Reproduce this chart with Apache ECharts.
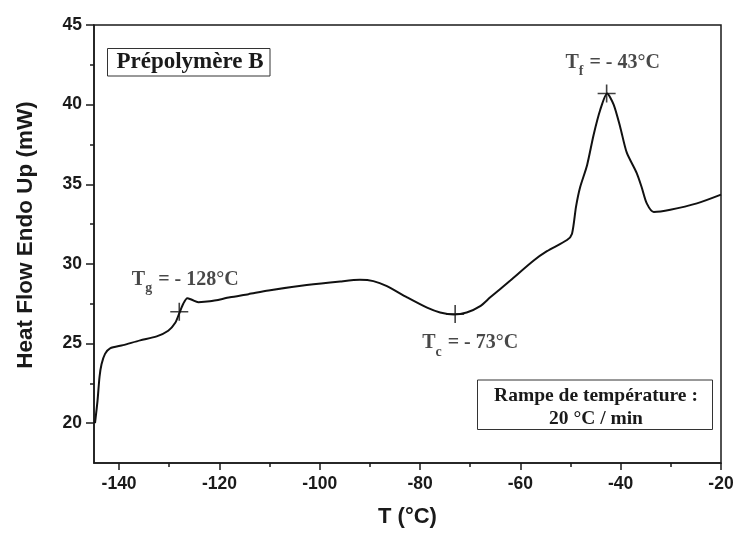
<!DOCTYPE html>
<html>
<head>
<meta charset="utf-8">
<script src="https://cdn.jsdelivr.net/npm/echarts@6/dist/echarts.min.js"></script>
<style>
html,body{margin:0;padding:0;background:#fff;}
#chart{width:737px;height:533px;}
</style>
</head>
<body>
<div id="chart"></div>
<script>
// Data
var tempC = [-144.8, -144.3, -143.9, -143.5, -142.8, -141.8, -139.2, -135.8, -132.5, -130.2, -128.8, -128, -127.2, -126.4, -125.5, -124.2, -121.9, -117.9, -114.2, -110.2, -102.6, -95.9, -92, -89.3, -86.6, -82.6, -78.6, -76, -73.3, -70.7, -68, -66, -62, -57.4, -54.7, -50.7, -49.7, -48.9, -48.1, -46.7, -45.4, -44.1, -42.7, -41.4, -40.1, -38.8, -36.8, -35.8, -34.8, -33.4, -30.1, -24.8, -20];
var heatFlow = [20.0, 21.4, 22.9, 23.7, 24.35, 24.7, 24.9, 25.2, 25.45, 25.8, 26.3, 26.9, 27.5, 27.85, 27.75, 27.6, 27.65, 27.9, 28.1, 28.33, 28.67, 28.9, 29.0, 28.92, 28.6, 27.9, 27.25, 26.95, 26.82, 26.95, 27.35, 27.9, 28.96, 30.2, 30.8, 31.5, 31.9, 33.6, 34.8, 36.2, 38.1, 39.65, 40.7, 40.0, 38.6, 37.0, 35.7, 34.8, 33.8, 33.26, 33.4, 33.8, 34.35];

// Characteristic temperatures (marked points)
var markNames = ['g', 'c', 'f'];
var markTemps = [-128, -73, -42.8];
var markFlows = [27.0, 26.85, 40.7];
var markTexts = [' = - 128°C', ' = - 73°C', ' = - 43°C'];

// Axis ticks
var xTicks = [-140, -120, -100, -80, -60, -40, -20];
var xMinorTicks = [-130, -110, -90, -70, -50, -30];
var yTicks = [20, 25, 30, 35, 40, 45];
var yMinorTicks = [22.5, 27.5, 32.5, 37.5, 42.5];

var curve = tempC.map(function (t, i) { return [t, heatFlow[i]]; });
var labelOffsets = [[6, -31], [15, 30], [6, -30]];
var marks = markTemps.map(function (t, i) {
  return {
    value: [t, markFlows[i]],
    label: {
      show: true,
      position: 'inside',
      offset: labelOffsets[i],
      formatter: '{t|T}{s|' + markNames[i] + '}{t|' + markTexts[i] + '}'
    }
  };
});

var axisColor = '#1a1a1a';
var sansFont = '"Liberation Sans", Arial, Helvetica, sans-serif';
var serifFont = '"Liberation Serif", "Times New Roman", serif';

var chart = echarts.init(document.getElementById('chart'), null, {renderer: 'canvas'});
chart.setOption({
  animation: false,
  backgroundColor: '#fff',
  grid: {left: 94, right: 16, top: 25, bottom: 70, show: true, borderColor: axisColor, borderWidth: 1.5, backgroundColor: 'transparent'},
  xAxis: [{
    type: 'value', min: -145, max: -20,
    name: 'T (°C)', nameLocation: 'middle', nameGap: 43,
    nameTextStyle: {fontFamily: sansFont, fontWeight: 'bold', fontSize: 22, color: axisColor},
    axisLine: {show: true, lineStyle: {color: axisColor, width: 1.5}},
    axisTick: {show: true, inside: false, length: 7, customValues: xTicks, lineStyle: {color: axisColor, width: 1.5}},
    axisLabel: {customValues: xTicks, margin: 12, fontFamily: sansFont, fontWeight: 'bold', fontSize: 17.5, color: axisColor},
    splitLine: {show: false}
  }, {
    type: 'value', min: -145, max: -20, position: 'bottom',
    axisLine: {show: false},
    axisTick: {show: true, inside: false, length: 4, customValues: xMinorTicks, lineStyle: {color: axisColor, width: 1.5}},
    axisLabel: {show: false},
    splitLine: {show: false}
  }],
  yAxis: [{
    type: 'value', min: 17.5, max: 45,
    name: 'Heat Flow Endo Up (mW)', nameLocation: 'middle', nameGap: 57, nameRotate: 90,
    nameTextStyle: {fontFamily: sansFont, fontWeight: 'bold', fontSize: 22.5, color: axisColor, padding: [0, 0, 0, 18]},
    axisLine: {show: true, lineStyle: {color: axisColor, width: 1.5}},
    axisTick: {show: true, inside: false, length: 8, customValues: yTicks, lineStyle: {color: axisColor, width: 1.5}},
    axisLabel: {customValues: yTicks, margin: 12, fontFamily: sansFont, fontWeight: 'bold', fontSize: 17.5, color: axisColor},
    splitLine: {show: false}
  }, {
    type: 'value', min: 17.5, max: 45, position: 'left',
    axisLine: {show: false},
    axisTick: {show: true, inside: false, length: 4, customValues: yMinorTicks, lineStyle: {color: axisColor, width: 1.5}},
    axisLabel: {show: false},
    splitLine: {show: false}
  }],
  series: [{
    type: 'line',
    data: curve,
    smooth: 0.25,
    showSymbol: false,
    lineStyle: {color: '#111', width: 2},
    z: 3
  }, {
    type: 'scatter',
    data: marks,
    symbol: 'path://M8.2,0H9.8V8.2H18V9.8H9.8V18H8.2V9.8H0V8.2H8.2Z',
    symbolSize: 18,
    itemStyle: {color: '#111'},
    label: {
      rich: {
        t: {fontFamily: serifFont, fontWeight: 'bold', fontSize: 20, color: '#1a1a1a', verticalAlign: 'top', lineHeight: 22},
        s: {fontFamily: serifFont, fontWeight: 'bold', fontSize: 14, color: '#1a1a1a', verticalAlign: 'top', lineHeight: 16, padding: [12, 1, 0, 0]}
      }
    },
    z: 4
  }],
  graphic: [{
    type: 'group',
    children: [{
      type: 'rect',
      shape: {x: 107.5, y: 48.5, width: 162.5, height: 27.5},
      style: {fill: '#fff', stroke: '#333', lineWidth: 1}
    }, {
      type: 'text',
      x: 190, y: 62.5,
      style: {text: 'Prépolymère B', font: 'bold 23px ' + serifFont, fill: '#1a1a1a', align: 'center', verticalAlign: 'middle'}
    }]
  }, {
    type: 'group',
    children: [{
      type: 'rect',
      shape: {x: 477.5, y: 380, width: 235, height: 49.5},
      style: {fill: '#fff', stroke: '#333', lineWidth: 1}
    }, {
      type: 'text',
      x: 596, y: 396,
      style: {text: 'Rampe de température :', font: 'bold 19.5px ' + serifFont, fill: '#1a1a1a', align: 'center', verticalAlign: 'middle'}
    }, {
      type: 'text',
      x: 596, y: 419,
      style: {text: '20 °C / min', font: 'bold 19.5px ' + serifFont, fill: '#1a1a1a', align: 'center', verticalAlign: 'middle'}
    }]
  }]
});
</script>
</body>
</html>
